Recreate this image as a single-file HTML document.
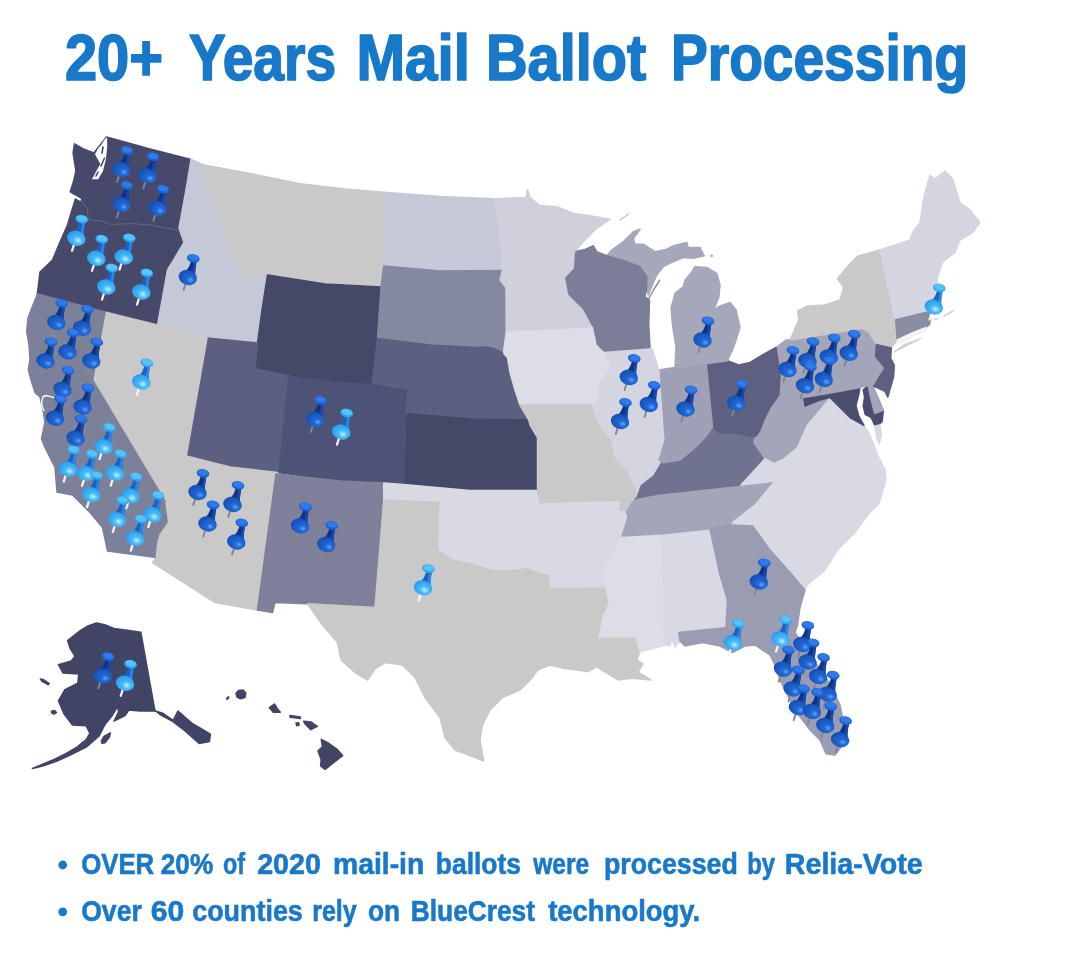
<!DOCTYPE html>
<html lang="en"><head><meta charset="utf-8"><title>20+ Years Mail Ballot Processing</title>
<style>
html,body{margin:0;padding:0;background:#fff;}
body{width:1079px;height:967px;position:relative;overflow:hidden;font-family:"Liberation Sans",sans-serif;}
svg{position:absolute;left:0;top:0;display:block}
.t{font-family:"Liberation Sans",sans-serif;font-weight:bold;fill:#1878c9}
</style></head><body>
<svg width="1079" height="967" viewBox="0 0 1079 967">
<defs>
<filter id="soft" x="-5%" y="-5%" width="110%" height="110%"><feGaussianBlur stdDeviation="0.7"/></filter>
<linearGradient id="gd" x1="0" y1="0" x2="1" y2="1"><stop offset="0" stop-color="#2a73e0"/><stop offset="1" stop-color="#1247a8"/></linearGradient>
<radialGradient id="bd" cx="0.68" cy="0.6" r="0.65"><stop offset="0" stop-color="#58a8ff"/><stop offset="0.3" stop-color="#2468d4"/><stop offset="1" stop-color="#1550b8"/></radialGradient>
<radialGradient id="bl" cx="0.62" cy="0.6" r="0.7"><stop offset="0" stop-color="#c8f0ff"/><stop offset="0.35" stop-color="#45b9f7"/><stop offset="1" stop-color="#2596ea"/></radialGradient>
<g id="pd">
 <path d="M-4.2,13 L-1.8,5.4" fill="none" stroke="#85858f" stroke-width="1.9" stroke-linecap="round"/>
 <path d="M3.6,-18 L9,-16.4 C8.2,-11 7.2,-7 7.4,-2 L-3.4,-4.8 C0.4,-8 2.6,-12 3.6,-18 Z" fill="#0e3585"/>
 <path d="M6.6,-17 L9,-16.4 C8.2,-11 7.2,-7 7.4,-2 L4,-2.8 C4.6,-8 5.6,-12 6.6,-17 Z" fill="#1849a8"/>
 <ellipse cx="0" cy="0.5" rx="9.4" ry="7.4" transform="rotate(18 0 0.5)" fill="url(#bd)"/>
 <ellipse cx="5.5" cy="-18.6" rx="6.4" ry="4.3" transform="rotate(12 5.5 -18.6)" fill="#1f63d2"/>
 <ellipse cx="5.8" cy="-19.4" rx="5.2" ry="3" transform="rotate(12 5.8 -19.4)" fill="#2e7aea"/>
</g>
<g id="pl">
 <path d="M-4.2,13 L-1.8,5.4" fill="none" stroke="#f2f5f8" stroke-width="2.3" stroke-linecap="round"/>
 <path d="M3.6,-18 L9,-16.4 C8.2,-11 7.2,-7 7.4,-2 L-3.4,-4.8 C0.4,-8 2.6,-12 3.6,-18 Z" fill="#1a63c6"/>
 <path d="M6.6,-17 L9,-16.4 C8.2,-11 7.2,-7 7.4,-2 L4,-2.8 C4.6,-8 5.6,-12 6.6,-17 Z" fill="#2b86e2"/>
 <ellipse cx="0" cy="0.5" rx="9.4" ry="7.4" transform="rotate(18 0 0.5)" fill="url(#bl)"/>
 <ellipse cx="5.5" cy="-18.6" rx="6.4" ry="4.3" transform="rotate(12 5.5 -18.6)" fill="#33a8f2"/>
 <ellipse cx="5.8" cy="-19.4" rx="5.2" ry="3" transform="rotate(12 5.8 -19.4)" fill="#55c4fa"/>
</g>
</defs>
<rect width="1079" height="967" fill="#ffffff"/>
<g filter="url(#soft)" stroke-linejoin="round">
<polygon points="74.5,143.8 82.8,148.6 93.9,153 106.5,137 150,149 191,159.5 186,190 179,228 177.5,228 145,222 125,221 110,222.5 100,219 87.5,219 86,210 84,203 76,197 70.3,191.7 73.8,180.6 75.9,170.9 73.1,152.8" fill="#464a6a" stroke="#464a6a" stroke-width="1.5"/>
<polygon points="76,197 84,203 86,210 87.5,219 100,219 110,222.5 125,221 145,222 177.5,228 179,228 184,242.5 176,256 167.5,270 163,295 157.5,325 105,312 37.5,294 37.5,292.5 40,272 52.5,260 60,242 67.5,225 72,210" fill="#464a6a" stroke="#464a6a" stroke-width="1.5"/>
<polygon points="191,159.5 203.75,165 206,185 212,200 222.5,230 228,245 235,260 245,277.5 256,279 267.5,275 262,310 257.5,343 207,338 157.5,325 163,295 167.5,270 176,256 184,242.5 179,228 186,190" fill="#c5c8d6" stroke="#c5c8d6" stroke-width="1.5"/>
<polygon points="203.75,165 245,172.5 300,183.75 345,189 387,192.5 385,230 383.75,266 381,287 325,284 267.5,275 256,279 245,277.5 235,260 228,245 222.5,230 212,200 206,185" fill="#c9c9c9" stroke="#c9c9c9" stroke-width="1.5"/>
<polygon points="267.5,275 325,284 381,287 377.5,338.5 372,384.5 313,379.5 255,368.5 257.5,343 262,310" fill="#454868" stroke="#454868" stroke-width="1.5"/>
<polygon points="387,192.5 440,196.5 494,198.75 497,215 500,235 502.5,270.5 440,271 383.75,266 385,230" fill="#c5c8d6" stroke="#c5c8d6" stroke-width="1.5"/>
<polygon points="383.75,266 440,271 502.5,270.5 500,280 506,287.5 506.25,332.5 503.75,350 504,353.75 495,349 487,347 477.5,347.5 430,345 377.5,338.5 381,287" fill="#8489a0" stroke="#8489a0" stroke-width="1.5"/>
<polygon points="377.5,338.5 430,345 477.5,347.5 487,347 495,349 504,353.75 507.5,357.5 510,372.5 515,390 520,405 528.75,420 470,419 407,413.75 406.25,390 372,384.5" fill="#5c6080" stroke="#5c6080" stroke-width="1.5"/>
<polygon points="407,413.75 470,419 528.75,420 530,425 537.5,437.5 537.5,490.5 470,490.5 403.75,484.5" fill="#454868" stroke="#454868" stroke-width="1.5"/>
<polygon points="287.5,376 340,382.5 372,384.5 406.25,390 403.75,484.5 340,481 277.5,472.5" fill="#4e5276" stroke="#4e5276" stroke-width="1.5"/>
<polygon points="207,338 257.5,343 255,368.5 287.5,376 277.5,472.5 230,467 186.25,456" fill="#5b5f7f" stroke="#5b5f7f" stroke-width="1.5"/>
<polygon points="105,312 157.5,325 207,338 186.25,456 180,480 172,490 166,503 92.5,380" fill="#c9c9c9" stroke="#c9c9c9" stroke-width="1.5"/>
<polygon points="37.5,294 105,312 92.5,380 166,503 168.75,522.5 160,535 157.5,545 156.25,557.5 107.5,551 102.5,527.5 90,512.5 72.5,495 57,492 55,467.5 45,447.5 41.5,438.9 44.9,422.4 43,410 40,397 35,392.6 31,380 28.3,369.4 30,359.5 29,345 26.7,331.4 28,318 33,305" fill="#7d8099" stroke="#7d8099" stroke-width="1.5"/>
<polygon points="186.25,456 230,467 277.5,472.5 276,474 257.5,610 215,602.5 152.5,562.5 156.25,557.5 157.5,545 160,535 168.75,522.5 166,503 172,490 180,480" fill="#c9c9c9" stroke="#c9c9c9" stroke-width="1.5"/>
<polygon points="276,474 340,481 383.75,483 375,607.5 307.5,603.75 275,602.5 272.5,612.5 257.5,610" fill="#7e8199" stroke="#7e8199" stroke-width="1.5"/>
<polygon points="383.75,483 403.75,484.5 470,490.5 537.5,490.5 540,502.5 545,540 550,576 540,573.75 527.5,568.75 510,571 490,570 470,563.75 452.5,560 437.5,550 438.75,502.5 383.75,500" fill="#d8d9e2" stroke="#d8d9e2" stroke-width="1.5"/>
<polygon points="383.75,500 438.75,502.5 437.5,550 452.5,560 470,563.75 490,570 510,571 527.5,568.75 540,573.75 550,576 551,588.75 555,627.5 553.75,655 550,665 537.5,670 532.5,677.5 520,690 502.5,697.5 490,710 482.5,725 480,740 483.75,761 475,757.5 455,750 445,737.5 440,717.5 425,697.5 415,677.5 402.5,665 385,662.5 375,668.75 367.5,680 355,672.5 341,660 337.5,642.5 322.5,625 307.5,603.75 375,607.5" fill="#c9c9c9" stroke="#c9c9c9" stroke-width="1.5"/>
<polygon points="540,502.5 621,500 620,510 626,510 628,517 625,527 622,536 610,557.5 605,575 606,588 551,588.75 550,576 545,540" fill="#d8d9e2" stroke="#d8d9e2" stroke-width="1.5"/>
<polygon points="551,588.75 606,588 609.2,603.3 603.3,616.7 599.2,636.7 635.8,636.7 640,651.7 636.7,660 643,664 638,672 650.8,680 640,679 631.7,678.3 618.3,680 610,675 596.7,666.7 588.3,671.7 563.3,668.3 550,665 553.75,655 555,627.5" fill="#c9c9c9" stroke="#c9c9c9" stroke-width="1.5"/>
<polygon points="622,536 662.5,533.75 663.75,625 666,645 655,648 640,651.7 635.8,636.7 599.2,636.7 603.3,616.7 609.2,603.3 606,588 605,575 610,557.5" fill="#dcdde5" stroke="#dcdde5" stroke-width="1.5"/>
<polygon points="662.5,533.75 710,528.75 720,575 727.5,600 727.5,625 726,628 680,632.5 678.75,632.5 680,641 675,646.7 672,640 670,646 666,645 663.75,625" fill="#d8d9e2" stroke="#d8d9e2" stroke-width="1.5"/>
<polygon points="633.75,498.75 657.5,494 740,485 775,481 755,505 732.5,522.5 732.5,525 710,528.75 662.5,533.75 622,536 625,527 628,517 626,510 630,503" fill="#a3a5b8" stroke="#a3a5b8" stroke-width="1.5"/>
<polygon points="633.75,498.75 636,496 640,485 652.5,475 660,462.5 680,460 692.5,450 705,437.5 712.5,427 720,433 735,433 747.5,436 756,436 753.75,442.5 765,458.75 752.5,472.5 745,480 740,485 657.5,494" fill="#6f7390" stroke="#6f7390" stroke-width="1.5"/>
<polygon points="780,378 781,400 803.75,397.5 805,406 820,400 830,397.5 822.5,407.5 807.5,425 797.5,447.5 782.5,460 773.75,463.75 765,458.75 753.75,442.5 756,436 760,430 763.75,420 770,407.5 778.75,395" fill="#a3a5b8" stroke="#a3a5b8" stroke-width="1.5"/>
<polygon points="741,485 752.5,472.5 765,458.75 773.75,463.75 782.5,460 797.5,447.5 807.5,425 822.5,407.5 830,397.5 837.5,405 850,417.5 863.75,425 870,435 877.5,455 883.75,467.5 885,469 830,475 775,481" fill="#d8d9e2" stroke="#d8d9e2" stroke-width="1.5"/>
<polygon points="775,481 830,475 885,469 886,480 880,500 878.75,503.75 867.5,515 855,532.5 840,525 820,520 800,516 785,522 752.5,525 732.5,525 732.5,522.5 755,505" fill="#d8d9e2" stroke="#d8d9e2" stroke-width="1.5"/>
<polygon points="752.5,525 785,522 800,516 820,520 840,525 855,532.5 837.5,550 825,570 807.5,585 805,590 790,572.5 770,550" fill="#d8d9e2" stroke="#d8d9e2" stroke-width="1.5"/>
<polygon points="710,528.75 732.5,525 752.5,526 770,550 790,572.5 805,590 800,607.5 797.5,625 795,632.5 727.5,627.5 726,628 727.5,600 720,575" fill="#9a9cb2" stroke="#9a9cb2" stroke-width="1.5"/>
<polygon points="678.75,632.5 727.5,627.5 795,632.5 810,655 827.5,680 840,705 845,730 842.5,745 835,755 826,753.75 820,740 810,730 795,710 785,690 780,680 775,665 770,655 755,645 745,646 732.5,652.5 720,646 702.5,642.5 685,646 680,641" fill="#9a9cb2" stroke="#9a9cb2" stroke-width="1.5"/>
<polygon points="803.75,397.5 836,392 860,387.5 858.8,394.2 855.9,405.8 858.8,416 863.9,425.4 850,417.5 837.5,405 830,397.5 820,400 805,406" fill="#4a4e6e" stroke="#4a4e6e" stroke-width="1.5"/>
<polygon points="863.2,389.9 868.2,385.6 871,399 874.7,413.5 883.4,410.5 882,421.7 875.5,426.8 871.1,417.4 865.3,414.5 863.2,405.8 864.6,397.1" fill="#4a4e6e" stroke="#4a4e6e" stroke-width="1.5"/>
<polygon points="875,426 880,425 881.5,435 879,444 876.5,437" fill="#d8d9e2" stroke="#d8d9e2" stroke-width="1.5"/>
<polygon points="868.2,385.6 872.6,385.6 877,395 883.4,410.2 874.7,413.5 871,399" fill="#a3a5b8" stroke="#a3a5b8" stroke-width="1.5"/>
<polygon points="875.5,342.8 891.4,346.5 890.7,358 894.3,365.3 893.6,376.9 887.8,397.1 884.9,391.3 872.6,385.6 877.6,376.9 883.4,368.2 874,356.6 874.7,347.9" fill="#5d6080" stroke="#5d6080" stroke-width="1.5"/>
<polygon points="776,347.5 786,340 790,340 861.7,328.4 869,332 875.5,342.8 874.7,347.9 874,356.6 883.4,368.2 877.6,376.9 872.6,385.6 868.2,385.6 860,387.5 836,392 803.75,397.5 781,400 780,375" fill="#a3a5b8" stroke="#a3a5b8" stroke-width="1.5"/>
<polygon points="790,340 798.75,320 797.5,311 807.5,306 825,305 840,300 843.75,287.5 837.5,278.75 848.75,265 857.5,256.25 880,250 885,272.5 890,295 893.75,315 895.7,319.7 897.2,340 892,346.5 891.4,346.5 875.5,342.8 869,332 861.7,328.4" fill="#c9c9c9" stroke="#c9c9c9" stroke-width="1.5"/>
<polygon points="880,250 910,240 912.5,232.5 920,222.5 923.75,197.5 930,175 935,179 945,171 952.5,178.75 960,202.5 970,210 980,222.5 972.5,232.5 960,240 955,252.5 942.5,262.5 937.5,277.5 936.25,287.5 933,300 930,310 927.5,313.75 895.5,320 893.75,315 890,295 885,272.5" fill="#d4d5e0" stroke="#d4d5e0" stroke-width="1.5"/>
<polygon points="895.7,319.7 925.4,312.4 930,313 930.5,319 929.5,324.5 926,327.5 912,333 897.2,340" fill="#8a8da3" stroke="#8a8da3" stroke-width="1.5"/>
<polygon points="897.2,340 912,333 926,327.5 925,331 912,337 897.5,345" fill="#f3f3f7" stroke="#f3f3f7" stroke-width="1.5"/>
<polygon points="706.25,363.75 727.5,360.75 738.75,365 750,362.5 762.5,355 776,347.5 780,375 778.75,395 770,407.5 763.75,420 760,430 756,436 747.5,436 735,433 720,433 712.5,427" fill="#5d6080" stroke="#5d6080" stroke-width="1.5"/>
<polygon points="658.75,370 675,367.5 706.25,363.75 712.5,427 705,437.5 692.5,450 680,460 665,462.5 660,462.5 657.5,460 663.75,440" fill="#9ea1b6" stroke="#9ea1b6" stroke-width="1.5"/>
<polygon points="603.75,351 650,347.5 652.5,350 658.75,370 663.75,440 657.5,460 660,462.5 652.5,475 640,485 636,496 635,490 627.5,472.5 615,460 610,440 597.5,425 591,405 597.5,400 598.75,382.5 610,367.5 605,353.75" fill="#d4d5e0" stroke="#d4d5e0" stroke-width="1.5"/>
<polygon points="675,367.5 676,347.5 672.5,325 671,307.5 673.3,300 675,293.3 683.3,286.7 685,280 690.8,273.3 695,266.7 706.7,267.5 716.7,273.3 720,285 718.75,297.5 713.75,310 720,306 730,302.5 736,310 740,327.5 736,340 732.5,350 727.5,360.75 706.25,363.75" fill="#a5a7ba" stroke="#a5a7ba" stroke-width="1.5"/>
<polygon points="606.7,255.8 611.7,250 623.3,241.7 633.3,231.7 640,229.2 636,235 633.3,238.3 635,244.2 643.3,244.2 655,251.7 666.7,249.2 673.3,245.8 686.7,242.5 688.3,247.5 700,247.5 704.2,255.8 693.3,258.3 683.3,257.5 673.3,261.7 663.3,266.7 656.7,275 651.7,286.7 648.3,295 646.7,288.3 646.7,276.7 640,266.7 626.7,261.7" fill="#a5a7ba" stroke="#a5a7ba" stroke-width="1.5"/>
<polygon points="574.2,251.7 585,249.5 593.3,245.8 596.7,251.7 606.7,255.8 626.7,261.7 640,266.7 646.7,276.7 646.7,288.3 645,296.7 649.5,300 648.75,325 650,347.5 603.75,351 596,345 592.5,328 582.5,310 567.5,295 564.2,277.5 573.3,268" fill="#7b7e98" stroke="#7b7e98" stroke-width="1.5"/>
<polygon points="494,198.75 526,197.5 527.5,189.5 530,197.5 540,205.5 556.7,206.7 573.3,213.3 590,215.8 610,219.2 596.7,228.3 585,240 574.2,251.7 573.3,268 564.2,277.5 567.5,295 582.5,310 592.5,328 506.25,332.5 506,287.5 500,280 502.5,270.5 500,235 497,215" fill="#cfd0db" stroke="#cfd0db" stroke-width="1.5"/>
<polygon points="506.25,332.5 592.5,328 596,345 605,353.75 610,367.5 598.75,382.5 597.5,400 591,405 520,405 515,390 510,372.5 507.5,357.5 504,353.75 503.75,350" fill="#dcdde5" stroke="#dcdde5" stroke-width="1.5"/>
<polygon points="520,405 591,405 597.5,425 610,440 615,460 627.5,472.5 635,490 636,496 633.75,498.75 630,503 626,510 620,510 621,500 540,502.5 537.5,490.5 537.5,437.5 530,425 528.75,420" fill="#c9c9c9" stroke="#c9c9c9" stroke-width="1.5"/>
<polygon points="96.4,623 88,626 80.6,630.4 67.6,640.6 70,648 75,656.3 71.3,661 58.4,664.7 63,673 78.8,674 77.8,683.2 64.9,689.7 58.4,700.8 63.9,713.8 72.3,724.9 86.2,725.8 89.9,733.3 86.2,739.7 76.9,747.2 65.8,753.6 54.7,759.2 32.4,768.5 43.5,765.7 57,761 71.3,754.6 86.2,747.2 99.1,736 104.7,724.9 112.1,715.7 117.7,706.4 118.5,712 114,721.2 125.1,715.7 128.8,710.1 139.9,711 154.8,711 162.2,712.9 173.3,720.3 177.9,711 191.8,723.1 210.4,734.2 209.4,741.6 199.2,743.5 184.4,730.5 172,721 160,714.5 154.8,710.1 140.8,632.2 128.8,630.4 114,628.5 104.7,624.8" fill="#414566" stroke="#414566" stroke-width="1.5"/>
<polygon points="321.2,739.4 327.7,742.7 336.8,749.1 342.6,755.6 334.2,762.1 325.1,769.3 320.6,766 321.2,759.5 318,751.1 322.5,746.6" fill="#414566" stroke="#414566" stroke-width="1.5"/>
<polygon points="303.7,721.3 310.8,721.9 317.3,726.4 310.8,729.7 305.6,724.5" fill="#414566" stroke="#414566" stroke-width="1.5"/>
<polygon points="290,715.5 300.4,717 300.2,718.6 290,717.2" fill="#414566" stroke="#414566" stroke-width="1.5"/>
<polygon points="296,723 298.6,722.8 299.2,725 296.8,725.8" fill="#414566" stroke="#414566" stroke-width="1.5"/>
<polygon points="236,693.5 238.5,690.5 243,690 245.8,693 245,697.5 240.5,698.8 237,697" fill="#414566" stroke="#414566" stroke-width="1.5"/>
<polygon points="269.3,707.6 274.5,704 277,708.3 280.3,712.2 273.2,712.2" fill="#414566" stroke="#414566" stroke-width="1.5"/>
<polygon points="226.6,698.6 228.4,696.8 228.8,697.6 227.2,699.2" fill="#414566" stroke="#414566" stroke-width="1.5"/>
<polygon points="40.4,679 43,679.4 49.3,683.6 48,684.6 42,681.4" fill="#414566" stroke="#414566" stroke-width="1.5"/>
<polygon points="51.4,711.2 54.6,710.6 56.4,712.6 54,714 51.8,713" fill="#414566" stroke="#414566" stroke-width="1.5"/>
<polygon points="101.4,741 104,736.5 110.3,733 109.5,737 105,742.8 102,743.2" fill="#414566" stroke="#414566" stroke-width="1.5"/>
<polygon points="107.1,137 107.2,147.2 105.8,159.8 103,170.9 98.1,179.2 92,179.2 96.3,170.9 100.3,163.9 98,159.8 95,154.2 98,148.5 101.5,144.5 104,140.3" fill="#fff"/>
<path d="M103,147 L102,153 M104.5,158 L101,166 M98,172 L96,176" fill="none" stroke="#464a6a" stroke-width="1.6" stroke-linecap="round"/>
<path d="M80.7,200 L87,208.4 L88.4,219.5 L100.9,220.9 L110.6,224.4 L132.9,223.7 L152.3,225.1 L178.7,230.5" fill="none" stroke="#656989" stroke-width="0.9"/>
<path d="M71,194.5 L80,199.5" fill="none" stroke="#fff" stroke-width="2.2" stroke-linecap="round"/>
<path d="M54,397.5 L47,395.5 L43.2,396.5 L41.8,401 L42,406 L44,410.5" fill="none" stroke="#fff" stroke-width="1.3" stroke-linecap="round" stroke-linejoin="round"/>
<path d="M935,319.5 L938,319 M944,316 L953,311" fill="none" stroke="#cfd0da" stroke-width="1.5" stroke-linecap="round"/>
<path d="M893.6,352.3 L921,338.5 L905,344 Z" fill="#d2d2d4" stroke="#d2d2d4" stroke-width="1.2" stroke-linejoin="round"/>
<path d="M620,220 L628.3,214.2" fill="none" stroke="#b9bbc9" stroke-width="1.2" stroke-linecap="round"/>
<circle cx="711.7" cy="255.8" r="1.4" fill="#a5a7ba"/>
<path d="M648.5,299 L653.5,290 L659.5,280.5" fill="none" stroke="#8a8da5" stroke-width="1.5" stroke-linecap="round"/>
</g>
<g>
<use href="#pd" x="121.25" y="169"/>
<use href="#pd" x="147.5" y="175.25"/>
<use href="#pd" x="121.25" y="204"/>
<use href="#pd" x="157.5" y="207.75"/>
<use href="#pl" x="76.25" y="237.75"/>
<use href="#pl" x="123.75" y="256.5"/>
<use href="#pl" x="96.25" y="257.75"/>
<use href="#pd" x="187.8" y="277"/>
<use href="#pl" x="106.25" y="286.5"/>
<use href="#pl" x="141.25" y="291.5"/>
<use href="#pl" x="933.75" y="306.5"/>
<use href="#pd" x="56.25" y="322"/>
<use href="#pd" x="82" y="327.75"/>
<use href="#pd" x="702.5" y="339.5"/>
<use href="#pd" x="67.5" y="351.5"/>
<use href="#pd" x="848.75" y="352.75"/>
<use href="#pd" x="828.75" y="356.5"/>
<use href="#pd" x="807.5" y="360.25"/>
<use href="#pd" x="45.5" y="360.5"/>
<use href="#pd" x="91.25" y="360.5"/>
<use href="#pd" x="787.5" y="369"/>
<use href="#pd" x="628.75" y="377"/>
<use href="#pd" x="823.75" y="379"/>
<use href="#pl" x="141.25" y="381.5"/>
<use href="#pd" x="805" y="385.25"/>
<use href="#pd" x="62.5" y="389"/>
<use href="#pd" x="736.25" y="402.75"/>
<use href="#pd" x="648.75" y="404"/>
<use href="#pd" x="82.5" y="406.5"/>
<use href="#pd" x="685.5" y="408.5"/>
<use href="#pd" x="55" y="417.75"/>
<use href="#pd" x="315" y="419"/>
<use href="#pd" x="620" y="421"/>
<use href="#pl" x="341.25" y="431.5"/>
<use href="#pd" x="75.5" y="437.75"/>
<use href="#pl" x="103.75" y="446"/>
<use href="#pl" x="68" y="468.5"/>
<use href="#pl" x="115" y="472.5"/>
<use href="#pl" x="86.25" y="472.75"/>
<use href="#pd" x="197.5" y="492"/>
<use href="#pl" x="91.25" y="494"/>
<use href="#pl" x="130.5" y="495.25"/>
<use href="#pd" x="232.5" y="504"/>
<use href="#pl" x="152.5" y="514"/>
<use href="#pl" x="117" y="519"/>
<use href="#pd" x="207.5" y="523.5"/>
<use href="#pd" x="300" y="525.5"/>
<use href="#pl" x="135" y="537.75"/>
<use href="#pd" x="236.25" y="541.5"/>
<use href="#pd" x="326.25" y="544"/>
<use href="#pd" x="758.75" y="581.5"/>
<use href="#pl" x="423" y="587.3"/>
<use href="#pl" x="780.3" y="638.5"/>
<use href="#pl" x="732.9" y="642.2"/>
<use href="#pd" x="802.3" y="644"/>
<use href="#pd" x="807.6" y="661.5"/>
<use href="#pd" x="783" y="668.6"/>
<use href="#pd" x="102.5" y="675.25"/>
<use href="#pd" x="818.1" y="676"/>
<use href="#pl" x="125" y="682.75"/>
<use href="#pd" x="792.6" y="688.5"/>
<use href="#pd" x="827.8" y="693.8"/>
<use href="#pd" x="797.9" y="707.2"/>
<use href="#pd" x="812" y="711"/>
<use href="#pd" x="825.2" y="725"/>
<use href="#pd" x="840.1" y="739.2"/>
</g>
<text class="t ttl" id="w0" x="64.97" y="79.6" font-size="64.8" stroke="#1878c9" stroke-width="1.7" stroke-linejoin="round" textLength="98.07" lengthAdjust="spacingAndGlyphs">20+</text>
<text class="t ttl" id="w1" x="188.98" y="79.6" font-size="64.8" stroke="#1878c9" stroke-width="1.7" stroke-linejoin="round" textLength="147.06" lengthAdjust="spacingAndGlyphs">Years</text>
<text class="t ttl" id="w2" x="356.40" y="79.6" font-size="64.8" stroke="#1878c9" stroke-width="1.7" stroke-linejoin="round" textLength="113.52" lengthAdjust="spacingAndGlyphs">Mail</text>
<text class="t ttl" id="w3" x="485.93" y="79.6" font-size="64.8" stroke="#1878c9" stroke-width="1.7" stroke-linejoin="round" textLength="160.28" lengthAdjust="spacingAndGlyphs">Ballot</text>
<text class="t ttl" id="w4" x="670.94" y="79.6" font-size="64.8" stroke="#1878c9" stroke-width="1.7" stroke-linejoin="round" textLength="297.13" lengthAdjust="spacingAndGlyphs">Processing</text>

<circle cx="62.7" cy="865" r="4.4" fill="#1878c9"/>
<circle cx="62.7" cy="911.8" r="4.4" fill="#1878c9"/>

<text class="t" x="81.17" y="874.2" font-size="29.2" stroke="#1878c9" stroke-width="0.6" textLength="73.04" lengthAdjust="spacingAndGlyphs">OVER</text>
<text class="t" x="160.80" y="874.2" font-size="29.2" stroke="#1878c9" stroke-width="0.6" textLength="52.41" lengthAdjust="spacingAndGlyphs">20%</text>
<text class="t" x="222.95" y="874.2" font-size="29.2" stroke="#1878c9" stroke-width="0.6" textLength="22.05" lengthAdjust="spacingAndGlyphs">of</text>
<text class="t" x="257.17" y="874.2" font-size="29.2" stroke="#1878c9" stroke-width="0.6" textLength="63.87" lengthAdjust="spacingAndGlyphs">2020</text>
<text class="t" x="332.96" y="874.2" font-size="29.2" stroke="#1878c9" stroke-width="0.6" textLength="91.29" lengthAdjust="spacingAndGlyphs">mail-in</text>
<text class="t" x="435.77" y="874.2" font-size="29.2" stroke="#1878c9" stroke-width="0.6" textLength="85.26" lengthAdjust="spacingAndGlyphs">ballots</text>
<text class="t" x="533.20" y="874.2" font-size="29.2" stroke="#1878c9" stroke-width="0.6" textLength="56.02" lengthAdjust="spacingAndGlyphs">were</text>
<text class="t" x="603.98" y="874.2" font-size="29.2" stroke="#1878c9" stroke-width="0.6" textLength="133.85" lengthAdjust="spacingAndGlyphs">processed</text>
<text class="t" x="747.16" y="874.2" font-size="29.2" stroke="#1878c9" stroke-width="0.6" textLength="27.84" lengthAdjust="spacingAndGlyphs">by</text>
<text class="t" x="784.77" y="874.2" font-size="29.2" stroke="#1878c9" stroke-width="0.6" textLength="138.05" lengthAdjust="spacingAndGlyphs">Relia-Vote</text>
<text class="t" x="81.19" y="921.2" font-size="29.2" stroke="#1878c9" stroke-width="0.6" textLength="60.62" lengthAdjust="spacingAndGlyphs">Over</text>
<text class="t" x="150.77" y="921.2" font-size="29.2" stroke="#1878c9" stroke-width="0.6" textLength="33.51" lengthAdjust="spacingAndGlyphs">60</text>
<text class="t" x="192.18" y="921.2" font-size="29.2" stroke="#1878c9" stroke-width="0.6" textLength="110.64" lengthAdjust="spacingAndGlyphs">counties</text>
<text class="t" x="312.15" y="921.2" font-size="29.2" stroke="#1878c9" stroke-width="0.6" textLength="44.65" lengthAdjust="spacingAndGlyphs">rely</text>
<text class="t" x="367.93" y="921.2" font-size="29.2" stroke="#1878c9" stroke-width="0.6" textLength="32.14" lengthAdjust="spacingAndGlyphs">on</text>
<text class="t" x="410.79" y="921.2" font-size="29.2" stroke="#1878c9" stroke-width="0.6" textLength="124.21" lengthAdjust="spacingAndGlyphs">BlueCrest</text>
<text class="t" x="548.20" y="921.2" font-size="29.2" stroke="#1878c9" stroke-width="0.6" textLength="152.02" lengthAdjust="spacingAndGlyphs">technology.</text>
</svg>
</body></html>
